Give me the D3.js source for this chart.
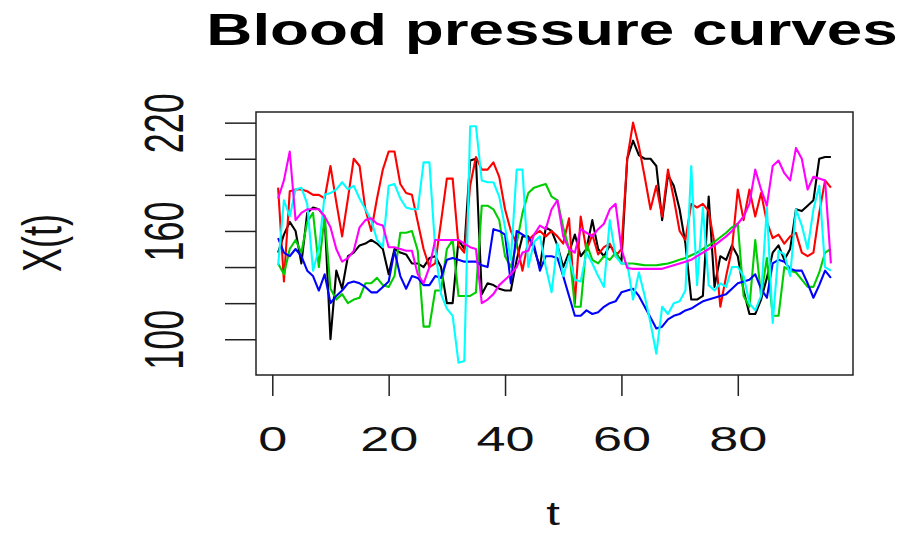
<!DOCTYPE html>
<html>
<head>
<meta charset="utf-8">
<script src="https://cdn.jsdelivr.net/npm/d3@7.9.0/dist/d3.min.js"></script>
<style>
  body { margin: 0; background: #fff; }
  svg { display: block; font-family: "Liberation Sans", Arial, Helvetica, sans-serif; }
</style>
</head>
<body>
<svg width="899" height="533"></svg>
<script>
// time points 1..96
const tValues = d3.range(1, 97);

// one array per curve
const black = [148,158,165,160,142,170,173,172,168,100,138,128,146,148,
  152,153,155,153,150,136,150,148,147,142,142,140,145,146,140,120,
  120,155,150,199,200,125,131,130,128,127,127,144,157,157,150,
  140,162,160,152,140,148,158,146,150,166,150,146,152,148,143,
  200,210,202,200,200,196,166,191,185,172,153,122,122,124,179,129,146,144,
  152,146,127,114,114,122,134,148,152,144,150,172,171,174,177,200,201,201];

const red = [184,132,182,183,183,182,180,180,178,196,176,157,178,200,
  196,172,160,178,194,204,204,186,181,180,165,150,140,142,165,189,
  189,152,148,185,201,194,194,198,190,172,160,153,138,155,158,
  160,157,160,157,153,167,120,168,149,158,147,151,153,146,150,
  200,220,207,190,172,185,168,194,178,160,155,175,173,175,171,153,118,135,
  150,183,166,183,168,181,165,156,158,153,157,159,148,146,148,170,188,184];

const green = [142,136,150,155,148,165,170,140,168,128,122,125,120,122,
  123,131,131,134,130,129,135,159,159,160,149,107,107,127,127,150,
  155,124,124,124,126,174,174,172,166,146,140,153,170,181,184,
  185,186,179,177,162,150,118,118,153,144,142,146,144,148,142,
  142,142,141.5,141,141,141,141.5,142,143,144,145,146.5,148,150,152,154,156.5,159,162,164,
  124,118,155,124,145,113,113,140,138,137,133,129,129,137,148,150];

const blue = [156,148,146,150,146,138,135,127,136,120,124,127,131,132,
  131,129,126,126,129,132,149,135,128,135,134,130,130,135,134,144,
  145,144,143,143,143,141,140,161,160,158,131,160,158,156,152,
  138,146,146,145,135,124,113,113,116,114,115,118,120,121,126,
  127,128,124,118,112,106,107,111,113,114,116,117,119,121,122,123,124,125,
  128,131,132,133,136,128,123,142,144,143,139,138,138,131,123,130,138,134];

const cyan = [141,177,168,183,184,175,138,150,180,181,183,187,183,185,
  178,172,166,155,151,185,186,178,173,172,172,198,198,150,125,117,
  113,87,88,218,218,188,187,187,179,162,144,194,194,140,154,
  157,140,126,153,135,146,133,132,148,142,135,129,166,146,142,
  142,122,137,124,109,92,118,114,120,121,127,196,130,173,130,127,131,129,
  140,140,135,120,116,124,173,109,149,147,135,172,163,150,172,185,140,138];

const magenta = [178,188,204,166,170,172,172,172,168,162,150,143,145,149,
  162,166,167,164,163,151,151,150,149,149,136,131,140,155,155,155,
  155,155,153,151,150,120,122,125,130,133,136,140,148,149,158,
  163,161,172,177,157,150,148,161,159,157,161,164,172,175,150,
  139.5,139,139,139,139,139,139,140,141,142,143,144,146,148,150,152,154.5,157,160,164,
  168,175,194,183,174,196,199,192,188,206,200,183,190,189,188,142];

const series = [black, red, green, blue, cyan, magenta];
const seriesColors = ['#000000', '#ff0000', '#00cd00', '#0000ff', '#00ffff', '#ff00ff'];

const xTicks = [0, 20, 40, 60, 80];
const yTicks = [100, 120, 140, 160, 180, 200, 220];
const yLabels = [100, 160, 220];

const chartTitle = 'Blood pressure curves';
const xTitle = 't';
const yTitle = 'X(t)';

// the reference is stretched sideways, so text gets widened
const stretch = 1.45;

let svg = d3.select('svg');

let box = { left: 256, right: 853, top: 112, bottom: 375 };

let x = d3.scaleLinear().domain([-2.8, 99.8]).range([box.left, box.right]);
let y = d3.scaleLinear().domain([80.2, 225.9]).range([box.bottom, box.top]);

// curves, drawn in column order like matplot
let line = d3.line()
  .x((d, i) => x(tValues[i]))
  .y((d) => y(d));

series.forEach((values, idx) => {
  svg.append('path')
    .datum(values)
    .attr('d', line)
    .attr('fill', 'none')
    .attr('stroke', seriesColors[idx])
    .attr('stroke-width', 2.1)
    .attr('stroke-linejoin', 'round');
});

// frame
svg.append('rect')
  .attr('x', box.left)
  .attr('y', box.top)
  .attr('width', box.right - box.left)
  .attr('height', box.bottom - box.top)
  .attr('fill', 'none')
  .attr('stroke', '#222')
  .attr('stroke-width', 1.5);

// x axis
svg.append('g')
  .attr('transform', `translate(0,${box.bottom})`)
  .call(d3.axisBottom(x).tickValues(xTicks).tickSize(21).tickSizeOuter(0))
  .call((g) => g.select('.domain').remove())
  .call((g) => g.selectAll('line').attr('stroke', '#222').attr('stroke-width', 1.5))
  .call((g) => g.selectAll('text')
    .attr('fill', '#111')
    .attr('font-size', 36)
    .attr('text-anchor', 'middle')
    .attr('y', 0)
    .attr('dy', null)
    .attr('transform', `translate(0,76) scale(${stretch},1)`));

// y axis, R only keeps every third label
svg.append('g')
  .attr('transform', `translate(${box.left},0)`)
  .call(d3.axisLeft(y).tickValues(yTicks).tickSize(31).tickSizeOuter(0)
    .tickFormat((d) => (yLabels.includes(d) ? d : '')))
  .call((g) => g.select('.domain').remove())
  .call((g) => g.selectAll('line').attr('stroke', '#222').attr('stroke-width', 1.5))
  .call((g) => g.selectAll('text')
    .attr('fill', '#111')
    .attr('font-size', 36)
    .attr('text-anchor', 'middle')
    .attr('x', 0)
    .attr('y', 0)
    .attr('dy', '0.36em')
    .attr('transform', `translate(-93,0) scale(1.55,1) rotate(-90)`));

// title
svg.append('text')
  .attr('transform', `translate(552,45) scale(${stretch},1)`)
  .attr('text-anchor', 'middle')
  .attr('font-size', 44)
  .attr('font-weight', 'bold')
  .attr('fill', '#000')
  .text(chartTitle);

// axis titles
svg.append('text')
  .attr('transform', `translate(553,525) scale(${stretch},1)`)
  .attr('text-anchor', 'middle')
  .attr('font-size', 34)
  .attr('fill', '#111')
  .text(xTitle);

svg.append('text')
  .attr('transform', 'translate(41,243) scale(1.55,1) rotate(-90)')
  .attr('text-anchor', 'middle')
  .attr('dy', '0.36em')
  .attr('font-size', 36)
  .attr('fill', '#111')
  .text(yTitle);
</script>
</body>
</html>
